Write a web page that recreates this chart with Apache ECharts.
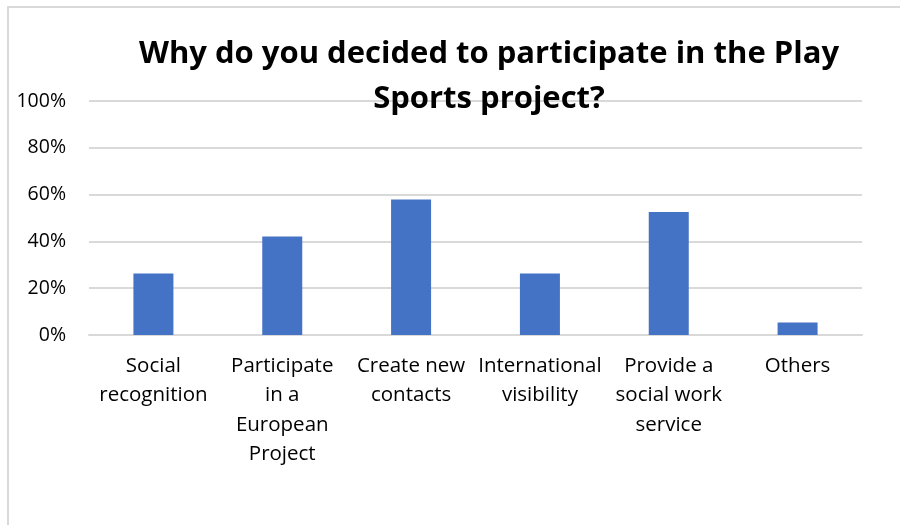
<!DOCTYPE html>
<html>
<head>
<meta charset="utf-8">
<script src="https://cdn.jsdelivr.net/npm/echarts@6/dist/echarts.min.js"></script>
<style>
  html, body { margin: 0; padding: 0; background: #fff; }
  #chart { width: 900px; height: 525px; }
</style>
</head>
<body>
<div id="chart"></div>
<script>
// Survey answers: share of respondents choosing each reason
const categories = [
  'Social\nrecognition',
  'Participate\nin a\nEuropean\nProject',
  'Create new\ncontacts',
  'International\nvisibility',
  'Provide a\nsocial work\nservice',
  'Others'
];
const shares = [0.263, 0.421, 0.579, 0.263, 0.526, 0.053];
const yTicks = { min: 0, max: 1, interval: 0.2 };
const titleText = 'Why do you decided to participate in the Play\nSports project?';

const FONT = '"Open Sans", "Noto Sans", sans-serif';

const chart = echarts.init(document.getElementById('chart'), null, { renderer: 'canvas' });
chart.setOption({
  animation: false,
  backgroundColor: '#ffffff',
  title: {
    text: titleText,
    left: 484,
    top: 27,
    textAlign: 'center',
    textStyle: {
      fontFamily: FONT,
      fontWeight: 'bold',
      fontSize: 31,
      lineHeight: 45,
      color: '#000000'
    }
  },
  graphic: [{
    type: 'rect',
    shape: { x: 8, y: 7, width: 920, height: 560 },
    style: { fill: 'none', stroke: '#d9d9d9', lineWidth: 2 },
    silent: true,
    z: -1
  }],
  grid: { left: 89, right: 38, top: 101, bottom: 190, containLabel: false },
  xAxis: {
    type: 'category',
    data: categories,
    axisLine: { show: true, lineStyle: { color: '#d9d9d9', width: 2 } },
    axisTick: { show: false },
    axisLabel: {
      interval: 0,
      margin: 16,
      fontFamily: FONT,
      fontSize: 20.5,
      lineHeight: 29.5,
      color: '#000000'
    }
  },
  yAxis: {
    type: 'value',
    min: yTicks.min,
    max: yTicks.max,
    interval: yTicks.interval,
    axisLine: { show: false },
    axisTick: { show: false },
    splitLine: { lineStyle: { color: '#d9d9d9', width: 2 } },
    axisLabel: {
      margin: 23,
      fontFamily: FONT,
      fontSize: 19.5,
      color: '#000000',
      formatter: v => Math.round(v * 100) + '%'
    }
  },
  series: [{
    type: 'bar',
    data: shares,
    barWidth: 40,
    itemStyle: { color: '#4472C4' }
  }]
});
</script>
</body>
</html>
